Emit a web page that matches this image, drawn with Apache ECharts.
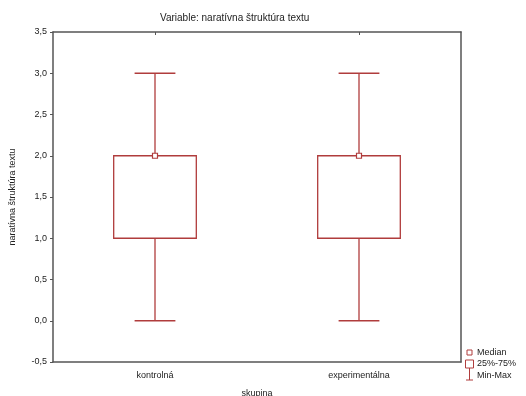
<!DOCTYPE html>
<html><head><meta charset="utf-8">
<script src="https://cdn.jsdelivr.net/npm/echarts@6/dist/echarts.min.js"></script>
<style>html,body{margin:0;padding:0;background:#fff}#c{width:526px;height:396px}</style>
</head><body><div id="c"></div>
<script>
const categories = ['kontrolná', 'experimentálna'];
const minValues = [0, 0];
const q1Values = [1, 1];
const medianValues = [2, 2];
const q3Values = [2, 2];
const maxValues = [3, 3];
const yTicks = [-0.5, 0, 0.5, 1, 1.5, 2, 2.5, 3, 3.5];
const legendLabels = ['Median', '25%-75%', 'Min-Max'];

const RED = '#b03c3c';
const AX = '#555';
const FONT = 'Liberation Sans, Arial, sans-serif';
const data = categories.map((c, i) => [i, minValues[i], q1Values[i], medianValues[i], q3Values[i], maxValues[i]]);

const chart = echarts.init(document.getElementById('c'));
chart.setOption({
  animation: false,
  title: {text: 'Variable: naratívna štruktúra textu', left: 155, top: 8,
    textStyle: {fontSize: 10, fontWeight: 'normal', color: '#222', fontFamily: FONT}},
  grid: {left: 53, right: 65, top: 32, bottom: 34, outerBoundsMode: 'none', containLabel: false},
  xAxis: [{
    type: 'category', data: categories, name: 'skupina', nameLocation: 'middle', nameGap: 27,
    nameTextStyle: {fontSize: 9, color: '#222', fontFamily: FONT},
    axisLine: {onZero: false, lineStyle: {color: AX, width: 1.5}},
    axisTick: {alignWithLabel: true, inside: true, length: 3, lineStyle: {color: AX}},
    axisLabel: {fontSize: 9, color: '#222', fontFamily: FONT, margin: 9},
    splitLine: {show: false}
  }, {
    type: 'category', data: categories, position: 'top',
    axisLine: {show: true, onZero: false, lineStyle: {color: AX, width: 1.5}},
    axisTick: {show: true, alignWithLabel: true, inside: true, length: 3, lineStyle: {color: AX}},
    axisLabel: {show: false}
  }],
  yAxis: [{
    type: 'value', min: -0.5, max: 3.5, interval: 0.5,
    name: 'naratívna štruktúra textu', nameLocation: 'middle', nameGap: 36,
    nameTextStyle: {fontSize: 9, color: '#222', fontFamily: FONT},
    axisLine: {show: true, lineStyle: {color: AX, width: 1.5}},
    axisTick: {show: true, length: 3, lineStyle: {color: AX}},
    axisLabel: {fontSize: 9, color: '#222', fontFamily: FONT, margin: 6,
      formatter: v => v.toFixed(1).replace('.', ',')},
    splitLine: {show: false}
  }, {
    type: 'value', min: -0.5, max: 3.5, interval: 0.5, position: 'right',
    axisLine: {show: true, lineStyle: {color: AX, width: 1.5}},
    axisTick: {show: false}, axisLabel: {show: false}, splitLine: {show: false}
  }],
  series: [{
    type: 'custom',
    data: data,
    encode: {x: 0, y: [1, 2, 3, 4, 5]},
    renderItem: function (params, api) {
      const x = api.value(0);
      const pMin = api.coord([x, api.value(1)]);
      const pQ1 = api.coord([x, api.value(2)]);
      const pMed = api.coord([x, api.value(3)]);
      const pQ3 = api.coord([x, api.value(4)]);
      const pMax = api.coord([x, api.value(5)]);
      const band = api.size([1, 0])[0];
      const bw = band * 0.405, cw = band * 0.2;
      const cx = pMed[0];
      const st = {stroke: RED, lineWidth: 1.3, fill: null};
      return {type: 'group', children: [
        {type: 'line', shape: {x1: cx, y1: pQ1[1], x2: cx, y2: pMin[1]}, style: st},
        {type: 'line', shape: {x1: cx, y1: pQ3[1], x2: cx, y2: pMax[1]}, style: st},
        {type: 'line', shape: {x1: cx - cw / 2, y1: pMin[1], x2: cx + cw / 2, y2: pMin[1]}, style: st},
        {type: 'line', shape: {x1: cx - cw / 2, y1: pMax[1], x2: cx + cw / 2, y2: pMax[1]}, style: st},
        {type: 'rect', shape: {x: cx - bw / 2, y: pQ3[1], width: bw, height: pQ1[1] - pQ3[1]},
          style: {stroke: RED, lineWidth: 1.3, fill: '#fff'}},
        {type: 'rect', shape: {x: cx - 2.5, y: pMed[1] - 2.5, width: 5, height: 5},
          style: {stroke: RED, lineWidth: 1.2, fill: '#fff'}}
      ]};
    }
  }],
  graphic: [
    {type: 'rect', shape: {x: 467, y: 350, width: 5, height: 5}, style: {stroke: RED, fill: '#fff', lineWidth: 1}},
    {type: 'text', x: 477, y: 352.5, style: {text: legendLabels[0], fontSize: 9, fill: '#222', fontFamily: FONT, verticalAlign: 'middle'}},
    {type: 'rect', shape: {x: 465.5, y: 360, width: 8, height: 8}, style: {stroke: RED, fill: '#fff', lineWidth: 1}},
    {type: 'line', shape: {x1: 469.5, y1: 368, x2: 469.5, y2: 371}, style: {stroke: RED, lineWidth: 1}},
    {type: 'text', x: 477, y: 364, style: {text: legendLabels[1], fontSize: 9, fill: '#222', fontFamily: FONT, verticalAlign: 'middle'}},
    {type: 'line', shape: {x1: 469.5, y1: 371, x2: 469.5, y2: 380}, style: {stroke: RED, lineWidth: 1}},
    {type: 'line', shape: {x1: 466, y1: 380, x2: 473, y2: 380}, style: {stroke: RED, lineWidth: 1}},
    {type: 'text', x: 477, y: 375.5, style: {text: legendLabels[2], fontSize: 9, fill: '#222', fontFamily: FONT, verticalAlign: 'middle'}}
  ]
});
</script></body></html>
